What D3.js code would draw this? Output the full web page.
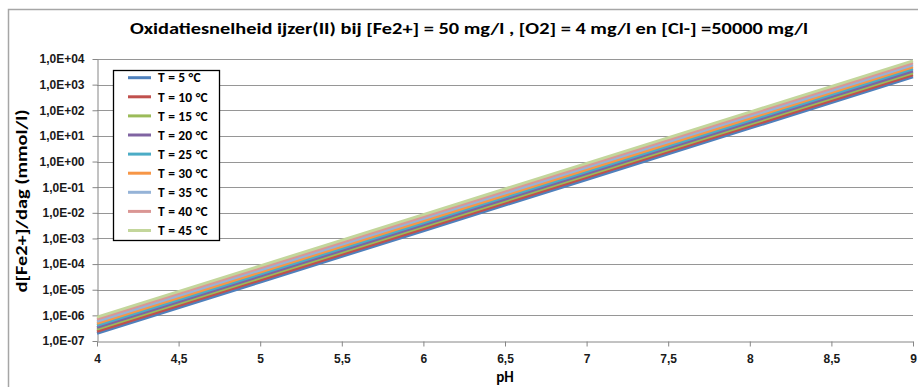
<!DOCTYPE html>
<html>
<head>
<meta charset="utf-8">
<script src="https://cdn.jsdelivr.net/npm/d3@7"></script>
<style>
  body { margin: 0; background: #fff; }
  svg { display: block; font-family: Calibri, Carlito, "Liberation Sans Narrow", "Liberation Sans", sans-serif; }
</style>
</head>
<body>
<div id="main"></div>
<script>
// data
var phValues = [4, 5, 6, 7, 8, 9];
var seriesNames = ["T = 5 °C", "T = 10 °C", "T = 15 °C", "T = 20 °C", "T = 25 °C",
                   "T = 30 °C", "T = 35 °C", "T = 40 °C", "T = 45 °C"];
var rate_T5  = [2.0e-7, 2.0e-5, 2.0e-3, 2.0e-1, 2.0e+1, 2.0e+3];
var rate_T10 = [2.4e-7, 2.4e-5, 2.4e-3, 2.4e-1, 2.4e+1, 2.4e+3];
var rate_T15 = [2.9e-7, 2.9e-5, 2.9e-3, 2.9e-1, 2.9e+1, 2.9e+3];
var rate_T20 = [3.4e-7, 3.4e-5, 3.4e-3, 3.4e-1, 3.4e+1, 3.4e+3];
var rate_T25 = [4.1e-7, 4.1e-5, 4.1e-3, 4.1e-1, 4.1e+1, 4.1e+3];
var rate_T30 = [4.9e-7, 4.9e-5, 4.9e-3, 4.9e-1, 4.9e+1, 4.9e+3];
var rate_T35 = [5.9e-7, 5.9e-5, 5.9e-3, 5.9e-1, 5.9e+1, 5.9e+3];
var rate_T40 = [7.1e-7, 7.1e-5, 7.1e-3, 7.1e-1, 7.1e+1, 7.1e+3];
var rate_T45 = [8.5e-7, 8.5e-5, 8.5e-3, 8.5e-1, 8.5e+1, 8.5e+3];
var xTicks = [4, 4.5, 5, 5.5, 6, 6.5, 7, 7.5, 8, 8.5, 9];
var xTickLabels = ["4", "4,5", "5", "5,5", "6", "6,5", "7", "7,5", "8", "8,5", "9"];
var yTicks = [1e-7, 1e-6, 1e-5, 1e-4, 1e-3, 1e-2, 1e-1, 1e0, 1e1, 1e2, 1e3, 1e4];
var yTickLabels = ["1,0E-07", "1,0E-06", "1,0E-05", "1,0E-04", "1,0E-03", "1,0E-02",
                   "1,0E-01", "1,0E+00", "1,0E+01", "1,0E+02", "1,0E+03", "1,0E+04"];

var allRates = [rate_T5, rate_T10, rate_T15, rate_T20, rate_T25,
                rate_T30, rate_T35, rate_T40, rate_T45];
var colors = ["#4F81BD", "#C0504D", "#9BBB59", "#8064A2", "#4BACC6",
              "#F79646", "#95B3D7", "#DA9694", "#C3D69B"];

var width = 918, height = 387;
var svg = d3.select("#main").append("svg")
    .attr("width", width)
    .attr("height", height);

// chart area border
svg.append("path")
    .attr("d", "M8.5," + height + "V9.5H" + width)
    .attr("fill", "none")
    .attr("stroke", "#a6a6a6")
    .attr("stroke-width", 1.5);

var x = d3.scaleLinear().domain([4, 9]).range([97, 913]);
var y = d3.scaleLog().domain([1e-7, 1e4]).range([341, 59]);

// gridlines
svg.append("g").selectAll("line")
    .data(yTicks.slice(1))
    .enter().append("line")
    .attr("x1", x(4)).attr("x2", x(9))
    .attr("y1", function(d) { return Math.round(y(d)) + 0.5; })
    .attr("y2", function(d) { return Math.round(y(d)) + 0.5; })
    .attr("stroke", "#969696")
    .attr("stroke-width", 1);

// axes
var xAxis = d3.axisBottom(x)
    .tickValues(xTicks)
    .tickFormat(function(d, i) { return xTickLabels[i]; })
    .tickSizeInner(5).tickSizeOuter(0).tickPadding(8);
var yAxis = d3.axisLeft(y)
    .tickValues(yTicks)
    .tickFormat(function(d, i) { return yTickLabels[i]; })
    .tickSizeInner(5).tickSizeOuter(0).tickPadding(8);

var gx = svg.append("g")
    .attr("transform", "translate(0," + (Math.round(y(1e-7)) + 0.5) + ")")
    .call(xAxis);
var gy = svg.append("g")
    .attr("transform", "translate(" + (Math.round(x(4)) + 0.5) + ",0)")
    .call(yAxis);
[gx, gy].forEach(function(g) {
    g.selectAll("path, line").attr("stroke", "#868686");
    g.selectAll("text")
        .attr("fill", "#1a1a1a")
        .style("font-size", "12px")
        .style("font-weight", "bold");
});

// series lines
var line = d3.line()
    .x(function(d) { return x(d[0]); })
    .y(function(d) { return y(d[1]); });

svg.append("g").selectAll("path")
    .data(allRates)
    .enter().append("path")
    .attr("d", function(d) {
        return line(phValues.map(function(p, i) { return [p, d[i]]; }));
    })
    .attr("fill", "none")
    .attr("stroke", function(d, i) { return colors[i]; })
    .attr("stroke-width", 3);

// legend
var legend = svg.append("g");
legend.append("rect")
    .attr("x", 113.5).attr("y", 70.5)
    .attr("width", 106).attr("height", 170)
    .attr("fill", "#fff")
    .attr("stroke", "#000")
    .attr("stroke-width", 1.3);
var items = legend.selectAll("g.item")
    .data(seriesNames)
    .enter().append("g")
    .attr("class", "item")
    .attr("transform", function(d, i) { return "translate(0," + (77.7 + i * 19.1) + ")"; });
items.append("line")
    .attr("x1", 128).attr("x2", 151)
    .attr("stroke", function(d, i) { return colors[i]; })
    .attr("stroke-width", 3);
items.append("text")
    .attr("x", 158).attr("dy", "0.35em")
    .style("font-size", "13.5px")
    .style("font-weight", "bold")
    .style("letter-spacing", "0.2px")
    .text(function(d) { return d; });

// titles
svg.append("text")
    .attr("x", 469).attr("y", 34)
    .attr("text-anchor", "middle")
    .attr("textLength", 678)
    .attr("lengthAdjust", "spacingAndGlyphs")
    .style("font-size", "16px")
    .style("font-weight", "bold")
    .text("Oxidatiesnelheid ijzer(II) bij [Fe2+] = 50 mg/l , [O2] = 4 mg/l en [Cl-] =50000 mg/l");

svg.append("text")
    .attr("transform", "translate(27,201) rotate(-90)")
    .attr("text-anchor", "middle")
    .attr("textLength", 183)
    .attr("lengthAdjust", "spacingAndGlyphs")
    .style("font-size", "16px")
    .style("font-weight", "bold")
    .text("d[Fe2+]/dag (mmol/l)");

svg.append("text")
    .attr("x", 505).attr("y", 382)
    .attr("text-anchor", "middle")
    .style("font-size", "15px")
    .style("font-weight", "bold")
    .text("pH");
</script>
</body>
</html>
